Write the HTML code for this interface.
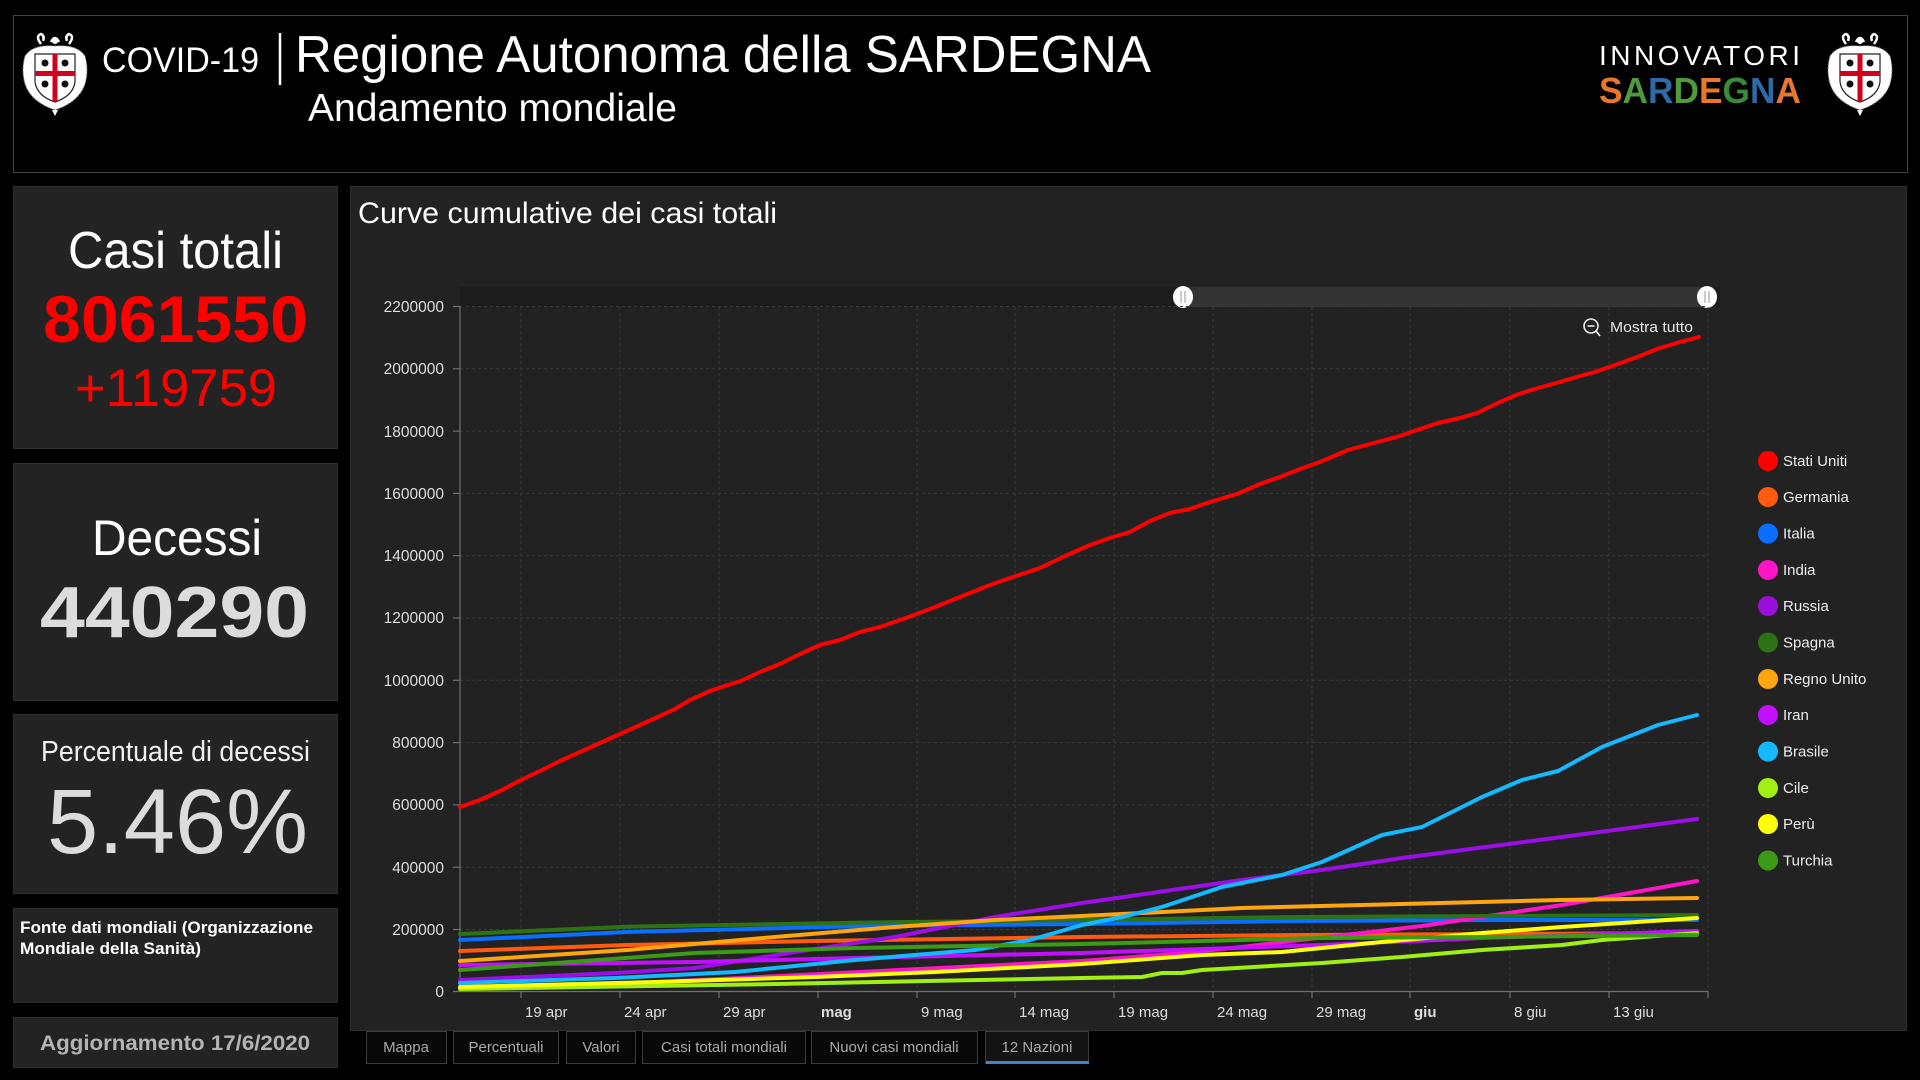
<!DOCTYPE html>
<html>
<head>
<meta charset="utf-8">
<style>
html,body{margin:0;padding:0;background:#000;width:1920px;height:1080px;overflow:hidden;}
svg{display:block;}
text{font-family:"Liberation Sans",Arial,sans-serif;}
</style>
</head>
<body>
<svg width="1920" height="1080" viewBox="0 0 1920 1080" xmlns="http://www.w3.org/2000/svg">
<defs>
  <g id="crest">
    <path d="M-14,-30 q-6,-8 0,-10 q4,2 2,7 M14,-30 q6,-8 0,-10 q-4,2 -2,7 M-4,-32 q4,-8 8,0" fill="none" stroke="#fff" stroke-width="2.5"/>
    <circle cx="0" cy="-33" r="3" fill="#fff"/>
    <path d="M-30,-18 Q-22,-30 0,-28 Q22,-30 30,-18 Q34,-4 30,10 Q24,28 0,36 Q-24,28 -30,10 Q-34,-4 -30,-18 Z" fill="#fff"/>
    <path d="M-30,-18 Q-22,-30 0,-28 Q22,-30 30,-18 Q34,-4 30,10 Q24,28 0,36 Q-24,28 -30,10 Q-34,-4 -30,-18 Z" fill="none" stroke="#777" stroke-width="1" stroke-dasharray="2,2"/>
    <path d="M-20,-20 L20,-20 L20,8 Q18,22 0,28 Q-18,22 -20,8 Z" fill="#fff" stroke="#222" stroke-width="1.2"/>
    <rect x="-2.5" y="-20" width="5" height="47" fill="#d0021b"/>
    <rect x="-20" y="-3" width="40" height="5" fill="#d0021b"/>
    <circle cx="-10" cy="-11" r="3.5" fill="#111"/>
    <circle cx="10" cy="-11" r="3.5" fill="#111"/>
    <circle cx="-10" cy="10" r="3.5" fill="#111"/>
    <circle cx="10" cy="10" r="3.5" fill="#111"/>
    <path d="M-3,36 L0,42 L3,36" fill="#fff"/>
  </g>
</defs>

<rect x="0" y="0" width="1920" height="1080" fill="#000"/>

<!-- HEADER -->
<rect x="13.5" y="15.5" width="1894" height="157" fill="#000" stroke="#444" stroke-width="1"/>
<use href="#crest" transform="translate(55,74) scale(1.0)"/>
<text x="102" y="72" font-size="35" fill="#fff" textLength="157" lengthAdjust="spacingAndGlyphs">COVID-19</text>
<line x1="280" y1="33" x2="280" y2="85" stroke="#fff" stroke-width="2.5"/>
<text x="295" y="72" font-size="52" fill="#fff" textLength="856" lengthAdjust="spacingAndGlyphs">Regione Autonoma della SARDEGNA</text>
<text x="308" y="121" font-size="39" fill="#fff" textLength="369" lengthAdjust="spacingAndGlyphs">Andamento mondiale</text>

<text x="1599" y="65" font-size="28" fill="#fff" textLength="201" lengthAdjust="spacing">INNOVATORI</text>
<text x="1599" y="103" font-size="36" font-weight="bold" textLength="202" lengthAdjust="spacingAndGlyphs"><tspan fill="#e8772e">S</tspan><tspan fill="#4e9a3c">A</tspan><tspan fill="#2f6aa8">R</tspan><tspan fill="#4e9a3c">D</tspan><tspan fill="#e8772e">E</tspan><tspan fill="#3a8a3a">G</tspan><tspan fill="#2f6aa8">N</tspan><tspan fill="#e8772e">A</tspan></text>
<use href="#crest" transform="translate(1860,74) scale(1.0)"/>

<!-- LEFT PANELS -->
<rect x="13.5" y="186.5" width="324" height="262" fill="#232323" stroke="#2e2e2e"/>
<text x="68" y="268" font-size="52" fill="#fff" textLength="215" lengthAdjust="spacingAndGlyphs">Casi totali</text>
<text x="43" y="342" font-size="66" font-weight="bold" fill="#ff0000" textLength="265" lengthAdjust="spacingAndGlyphs">8061550</text>
<text x="75" y="406" font-size="53" fill="#ff0000" textLength="202" lengthAdjust="spacingAndGlyphs">+119759</text>

<rect x="13.5" y="463.5" width="324" height="237" fill="#232323" stroke="#2e2e2e"/>
<text x="92" y="555" font-size="50" fill="#fff" textLength="170" lengthAdjust="spacingAndGlyphs">Decessi</text>
<text x="40" y="637" font-size="72" font-weight="bold" fill="#dcdcdc" textLength="269" lengthAdjust="spacingAndGlyphs">440290</text>

<rect x="13.5" y="714.5" width="324" height="179" fill="#232323" stroke="#2e2e2e"/>
<text x="41" y="761" font-size="29" fill="#f0f0f0" textLength="269" lengthAdjust="spacingAndGlyphs">Percentuale di decessi</text>
<text x="47" y="853" font-size="92" fill="#dcdcdc" textLength="261" lengthAdjust="spacingAndGlyphs">5.46%</text>

<rect x="13.5" y="908.5" width="324" height="94" fill="#232323" stroke="#2e2e2e"/>
<text x="20" y="933" font-size="16.5" font-weight="bold" fill="#fff" textLength="293" lengthAdjust="spacingAndGlyphs">Fonte dati mondiali (Organizzazione</text>
<text x="20" y="954" font-size="16.5" font-weight="bold" fill="#fff" textLength="181" lengthAdjust="spacingAndGlyphs">Mondiale della Sanità)</text>

<rect x="13.5" y="1017.5" width="324" height="50" fill="#232323" stroke="#2e2e2e"/>
<text x="40" y="1050" font-size="21" font-weight="bold" fill="#b4b4b4" textLength="270" lengthAdjust="spacingAndGlyphs">Aggiornamento 17/6/2020</text>

<!-- CHART PANEL -->
<rect x="350.5" y="186.5" width="1556" height="844" fill="#222222" stroke="#2e2e2e"/>
<text x="358" y="223" font-size="30" fill="#fff" textLength="419" lengthAdjust="spacingAndGlyphs">Curve cumulative dei casi totali</text>

<!-- scrollbar -->
<rect x="460" y="287" width="1260" height="20" fill="#1c1c1c"/>
<rect x="1183" y="287" width="524" height="20" fill="#343434"/>
<ellipse cx="1183" cy="297" rx="10" ry="11" fill="#fff"/>
<line x1="1181" y1="291" x2="1181" y2="303" stroke="#999" stroke-width="1"/>
<line x1="1185" y1="291" x2="1185" y2="303" stroke="#999" stroke-width="1"/>
<ellipse cx="1707" cy="297" rx="10" ry="11" fill="#fff"/>
<line x1="1705" y1="291" x2="1705" y2="303" stroke="#999" stroke-width="1"/>
<line x1="1709" y1="291" x2="1709" y2="303" stroke="#999" stroke-width="1"/>

<!-- grid -->
<g stroke="#3a3a3a" stroke-width="1" stroke-dasharray="3,3" fill="none">
  <line x1="460" y1="306.5" x2="1708" y2="306.5"/>
  <line x1="460" y1="368.8" x2="1708" y2="368.8"/>
  <line x1="460" y1="431.1" x2="1708" y2="431.1"/>
  <line x1="460" y1="493.4" x2="1708" y2="493.4"/>
  <line x1="460" y1="555.7" x2="1708" y2="555.7"/>
  <line x1="460" y1="618" x2="1708" y2="618"/>
  <line x1="460" y1="680.3" x2="1708" y2="680.3"/>
  <line x1="460" y1="742.6" x2="1708" y2="742.6"/>
  <line x1="460" y1="804.9" x2="1708" y2="804.9"/>
  <line x1="460" y1="867.2" x2="1708" y2="867.2"/>
  <line x1="460" y1="929.5" x2="1708" y2="929.5"/>
  <line x1="521" y1="307" x2="521" y2="991"/>
  <line x1="620" y1="307" x2="620" y2="991"/>
  <line x1="719" y1="307" x2="719" y2="991"/>
  <line x1="818" y1="307" x2="818" y2="991"/>
  <line x1="917" y1="307" x2="917" y2="991"/>
  <line x1="1015" y1="307" x2="1015" y2="991"/>
  <line x1="1114" y1="307" x2="1114" y2="991"/>
  <line x1="1213" y1="307" x2="1213" y2="991"/>
  <line x1="1312" y1="307" x2="1312" y2="991"/>
  <line x1="1410" y1="307" x2="1410" y2="991"/>
  <line x1="1510" y1="307" x2="1510" y2="991"/>
  <line x1="1609" y1="307" x2="1609" y2="991"/>
  <line x1="1708" y1="307" x2="1708" y2="991"/>
</g>

<!-- axes -->
<g stroke="#707070" stroke-width="1.2">
  <line x1="460" y1="306" x2="460" y2="992"/>
  <line x1="460" y1="991.5" x2="1708" y2="991.5"/>
  <line x1="453" y1="306.5" x2="460" y2="306.5"/>
  <line x1="453" y1="368.8" x2="460" y2="368.8"/>
  <line x1="453" y1="431.1" x2="460" y2="431.1"/>
  <line x1="453" y1="493.4" x2="460" y2="493.4"/>
  <line x1="453" y1="555.7" x2="460" y2="555.7"/>
  <line x1="453" y1="618" x2="460" y2="618"/>
  <line x1="453" y1="680.3" x2="460" y2="680.3"/>
  <line x1="453" y1="742.6" x2="460" y2="742.6"/>
  <line x1="453" y1="804.9" x2="460" y2="804.9"/>
  <line x1="453" y1="867.2" x2="460" y2="867.2"/>
  <line x1="453" y1="929.5" x2="460" y2="929.5"/>
  <line x1="453" y1="991.5" x2="460" y2="991.5"/>
  <line x1="521" y1="991" x2="521" y2="998"/>
  <line x1="620" y1="991" x2="620" y2="998"/>
  <line x1="719" y1="991" x2="719" y2="998"/>
  <line x1="818" y1="991" x2="818" y2="998"/>
  <line x1="917" y1="991" x2="917" y2="998"/>
  <line x1="1015" y1="991" x2="1015" y2="998"/>
  <line x1="1114" y1="991" x2="1114" y2="998"/>
  <line x1="1213" y1="991" x2="1213" y2="998"/>
  <line x1="1312" y1="991" x2="1312" y2="998"/>
  <line x1="1410" y1="991" x2="1410" y2="998"/>
  <line x1="1510" y1="991" x2="1510" y2="998"/>
  <line x1="1609" y1="991" x2="1609" y2="998"/>
  <line x1="1708" y1="991" x2="1708" y2="998"/>
</g>

<!-- y labels -->
<g font-size="15.5" fill="#dedede" text-anchor="end">
  <text x="444" y="312">2200000</text>
  <text x="444" y="374">2000000</text>
  <text x="444" y="437">1800000</text>
  <text x="444" y="499">1600000</text>
  <text x="444" y="561">1400000</text>
  <text x="444" y="623">1200000</text>
  <text x="444" y="686">1000000</text>
  <text x="444" y="748">800000</text>
  <text x="444" y="810">600000</text>
  <text x="444" y="873">400000</text>
  <text x="444" y="935">200000</text>
  <text x="444" y="997">0</text>
</g>

<!-- x labels -->
<g font-size="15" fill="#dedede">
  <text x="525" y="1017">19 apr</text>
  <text x="624" y="1017">24 apr</text>
  <text x="723" y="1017">29 apr</text>
  <text x="821" y="1017" font-weight="bold">mag</text>
  <text x="921" y="1017">9 mag</text>
  <text x="1019" y="1017">14 mag</text>
  <text x="1118" y="1017">19 mag</text>
  <text x="1217" y="1017">24 mag</text>
  <text x="1316" y="1017">29 mag</text>
  <text x="1414" y="1017" font-weight="bold">giu</text>
  <text x="1514" y="1017">8 giu</text>
  <text x="1613" y="1017">13 giu</text>
</g>

<!-- series -->
<g fill="none" stroke-width="4" stroke-linejoin="round" stroke-linecap="round">
  <polyline stroke="#ff5a0f" points="460,951 627,945 815,941 1082,937 1300,935 1500,934 1697,933"/>
  <polyline stroke="#0a6eff" points="460,940 627,932 867,926 1082,924 1300,921 1500,920 1697,920"/>
  <polyline stroke="#ff14c8" points="460,988 560,986 660,982 760,977 860,972 960,967 1082,961 1160,955 1242,947 1300,940 1362,933 1422,926 1482,917 1562,905 1630,893 1697,881"/>
  <polyline stroke="#9b0fe6" points="460,980 615,973 695,968 795,952 895,937 995,917 1082,903 1242,880 1322,870 1402,858 1562,837 1697,819"/>
  <polyline stroke="#2d7314" points="460,934 627,926.7 855,922.7 1082,920 1300,917 1697,915"/>
  <polyline stroke="#ffa50f" points="460,961 627,950 775,937 895,927 995,920 1082,916 1242,908 1402,904 1560,900 1697,898"/>
  <polyline stroke="#c30fff" points="460,965 695,962 855,958 1082,953 1322,945 1482,938 1697,931"/>
  <polyline stroke="#14b9ff" points="460,983 615,978 735,972 855,960 975,950 1030,940 1082,925 1122,917 1162,907 1222,887 1282,875 1322,862 1382,835 1422,827 1482,797 1522,780 1558,771 1602,747 1658,725 1697,715"/>
  <polyline stroke="#a0f014" points="460,989 775,984 1082,978 1142,977 1162,973 1182,973 1202,970 1322,963 1402,957 1482,950 1562,945 1602,940 1697,933"/>
  <polyline stroke="#ffff0a" points="460,987 655,982 815,977 935,972 1082,964 1202,955 1282,952 1382,942 1482,933 1562,927 1697,918"/>
  <polyline stroke="#3c9b14" points="460,970 695,953 855,948 1082,944 1322,938 1482,937 1697,935"/>
  <polyline stroke="#ff0000" points="460,807 480,800 500,791 521,780 540,771 560,761 580,752 600,743 620,734 640,725 660,716 675,709 690,700 710,691 725,686 741,681 760,672 780,664 800,654 820,645 840,640 860,632 880,627 906,618 930,609 960,597 990,585 1010,578 1040,568 1065,556 1090,545 1110,538 1130,532 1150,521 1170,513 1190,509 1210,502 1237,494 1260,484 1280,477 1300,469 1320,462 1348,450 1370,444 1400,436 1414,431 1438,423 1460,418 1477,413 1500,402 1519,394 1538,388 1560,382 1580,376 1595,372 1618,364 1640,356 1657,349 1680,342 1699,337"/>
</g>

<!-- Mostra tutto -->
<circle cx="1591" cy="326" r="7" fill="none" stroke="#eee" stroke-width="1.6"/>
<line x1="1587.5" y1="326" x2="1594.5" y2="326" stroke="#eee" stroke-width="1.6"/>
<line x1="1596" y1="331" x2="1600" y2="336" stroke="#eee" stroke-width="1.8"/>
<text x="1610" y="332" font-size="14.5" fill="#e6e6e6" textLength="83" lengthAdjust="spacingAndGlyphs">Mostra tutto</text>

<!-- legend -->
<g font-size="15" fill="#eeeeee">
  <circle cx="1768" cy="461" r="10" fill="#ff0000"/><text x="1783" y="466">Stati Uniti</text>
  <circle cx="1768" cy="497" r="10" fill="#ff5a0f"/><text x="1783" y="502">Germania</text>
  <circle cx="1768" cy="533.5" r="10" fill="#0a6eff"/><text x="1783" y="538.5">Italia</text>
  <circle cx="1768" cy="570" r="10" fill="#ff14c8"/><text x="1783" y="575">India</text>
  <circle cx="1768" cy="606" r="10" fill="#9b0fdc"/><text x="1783" y="611">Russia</text>
  <circle cx="1768" cy="642.5" r="10" fill="#2d7314"/><text x="1783" y="647.5">Spagna</text>
  <circle cx="1768" cy="679" r="10" fill="#ffa50f"/><text x="1783" y="684">Regno Unito</text>
  <circle cx="1768" cy="715" r="10" fill="#c30fff"/><text x="1783" y="720">Iran</text>
  <circle cx="1768" cy="751.5" r="10" fill="#14b9ff"/><text x="1783" y="756.5">Brasile</text>
  <circle cx="1768" cy="788" r="10" fill="#a0f014"/><text x="1783" y="793">Cile</text>
  <circle cx="1768" cy="824" r="10" fill="#ffff0a"/><text x="1783" y="829">Perù</text>
  <circle cx="1768" cy="860.5" r="10" fill="#3c9b14"/><text x="1783" y="865.5">Turchia</text>
</g>

<!-- tabs -->
<g stroke="#3c3c3c" stroke-width="1" fill="#080808">
  <rect x="366.5" y="1031.5" width="80" height="32"/>
  <rect x="453.5" y="1031.5" width="105" height="32"/>
  <rect x="566.5" y="1031.5" width="69" height="32"/>
  <rect x="642.5" y="1031.5" width="163" height="32"/>
  <rect x="811.5" y="1031.5" width="166" height="32"/>
  <rect x="985.5" y="1031.5" width="103" height="32" fill="#141414"/>
</g>
<rect x="986" y="1061" width="103" height="3" fill="#3c86cc"/>
<g font-size="15" fill="#ababab" text-anchor="middle">
  <text x="406" y="1052">Mappa</text>
  <text x="506" y="1052">Percentuali</text>
  <text x="601" y="1052">Valori</text>
  <text x="724" y="1052">Casi totali mondiali</text>
  <text x="894" y="1052">Nuovi casi mondiali</text>
  <text x="1037" y="1052">12 Nazioni</text>
</g>
</svg>
</body>
</html>
